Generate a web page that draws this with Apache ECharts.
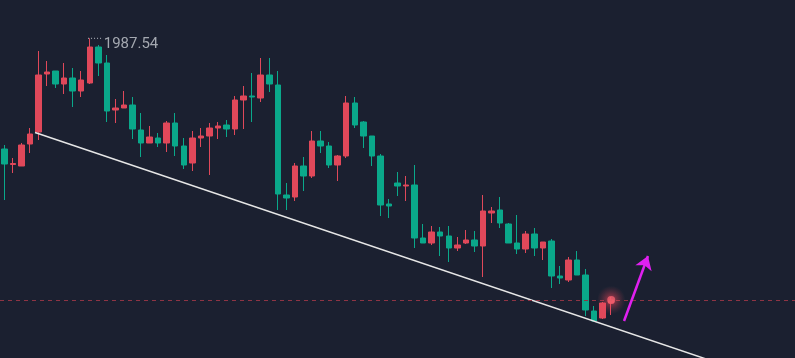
<!DOCTYPE html>
<html>
<head>
<meta charset="utf-8">
<script src="https://cdn.jsdelivr.net/npm/echarts@6/dist/echarts.min.js"></script>
<style>
html,body{margin:0;padding:0;background:#1b2030;}
#chart{width:795px;height:358px;}
</style>
</head>
<body>
<div id="chart"></div>
<script>
// OHLC candles: [open, close, low, high]
const candles = [
  [1965.4,1962.4,1955.2,1966.2],
  [1962.3,1962.5,1960.6,1963.6],
  [1962.0,1966.2,1962.0,1966.6],
  [1966.4,1968.4,1964.6,1969.6],
  [1968.8,1980.2,1967.2,1985.0],
  [1980.4,1980.8,1978.0,1983.0],
  [1981.0,1978.4,1977.6,1981.0],
  [1978.4,1979.6,1976.4,1982.6],
  [1979.6,1977.0,1973.8,1981.6],
  [1977.0,1979.2,1975.8,1981.0],
  [1978.6,1985.8,1978.4,1987.54],
  [1985.8,1982.6,1980.0,1986.2],
  [1982.6,1973.0,1970.8,1984.2],
  [1973.2,1973.6,1970.6,1975.4],
  [1973.6,1974.2,1973.6,1977.0],
  [1974.2,1969.4,1967.4,1975.8],
  [1969.2,1966.6,1963.8,1972.6],
  [1966.6,1967.8,1966.6,1970.0],
  [1967.6,1966.6,1965.8,1968.6],
  [1966.6,1970.6,1964.8,1971.0],
  [1970.6,1966.0,1964.0,1972.6],
  [1966.0,1962.2,1961.4,1967.6],
  [1962.6,1967.6,1961.0,1969.0],
  [1967.6,1968.0,1965.8,1969.6],
  [1968.0,1969.6,1960.2,1970.6],
  [1969.6,1970.0,1967.4,1970.8],
  [1970.2,1969.4,1967.8,1971.2],
  [1969.4,1975.2,1968.2,1976.0],
  [1975.2,1976.0,1969.4,1978.0],
  [1976.0,1975.8,1970.8,1980.6],
  [1975.6,1980.2,1974.8,1983.6],
  [1980.2,1978.4,1976.8,1983.6],
  [1978.2,1956.4,1953.2,1981.0],
  [1956.2,1955.6,1953.2,1958.6],
  [1955.8,1962.0,1955.0,1962.6],
  [1962.0,1960.0,1957.0,1963.8],
  [1960.0,1967.0,1959.6,1969.0],
  [1967.0,1966.0,1964.6,1969.0],
  [1966.0,1962.2,1961.6,1966.8],
  [1962.2,1964.0,1959.0,1964.2],
  [1964.0,1974.6,1963.6,1976.0],
  [1974.6,1970.2,1969.6,1975.8],
  [1970.8,1968.0,1965.6,1971.0],
  [1968.0,1964.0,1962.0,1968.0],
  [1964.0,1954.2,1952.0,1964.4],
  [1954.4,1954.0,1951.6,1955.4],
  [1958.6,1958.0,1956.0,1960.8],
  [1958.0,1958.2,1955.0,1960.0],
  [1958.2,1947.6,1945.6,1962.2],
  [1947.6,1946.6,1946.6,1950.4],
  [1946.6,1948.8,1946.2,1950.0],
  [1948.8,1948.0,1944.0,1949.8],
  [1948.0,1945.6,1942.8,1950.0],
  [1945.6,1946.2,1945.0,1947.8],
  [1946.6,1947.2,1946.4,1949.2],
  [1947.2,1946.0,1944.8,1949.0],
  [1946.0,1953.0,1939.8,1956.2],
  [1952.6,1953.0,1950.6,1953.8],
  [1953.2,1950.6,1949.6,1955.8],
  [1950.4,1946.6,1946.6,1950.6],
  [1946.6,1945.4,1944.4,1952.2],
  [1945.4,1948.4,1944.6,1949.0],
  [1948.4,1945.6,1944.0,1949.6],
  [1945.6,1946.8,1943.2,1946.8],
  [1947.0,1940.0,1937.6,1947.4],
  [1940.0,1939.6,1938.4,1942.0],
  [1939.2,1943.2,1938.8,1943.8],
  [1943.2,1940.2,1940.2,1945.0],
  [1940.2,1933.2,1932.0,1941.4],
  [1933.0,1931.0,1931.0,1934.0],
  [1931.6,1934.6,1931.4,1934.8],
  [1934.6,1935.2,1932.2,1935.8]
];
const totalSlots = 93; // candles plus empty space on the right
const categories = Array.from({length: totalSlots}, (_, i) => 'K' + (i + 1));

const highLabel = 1987.54;
const highIndex = 10;
const lastPrice = 1935.2;
const trendX = [3.6, 92.5];
const trendY = [1968.7, 1917.4];
const arrowX = [72.5, 75.3];
const arrowY = [1931.0, 1944.0];
const yMin = 1923.6, yMax = 1995.2;

const UP = '#e0485a', DOWN = '#0aa88a';

const chart = echarts.init(document.getElementById('chart'), null, {renderer: 'canvas'});
chart.setOption({
  backgroundColor: '#1b2030',
  animation: false,
  grid: {left: 0, right: 0, top: 0, bottom: 0, containLabel: false},
  xAxis: [
    {type: 'category', data: categories, boundaryGap: true, show: false},
    {type: 'value', min: -0.5, max: totalSlots - 0.5, show: false}
  ],
  yAxis: [{type: 'value', min: yMin, max: yMax, show: false, scale: true}],
  series: [
    {
      type: 'candlestick',
      data: candles,
      barWidth: 6,
      itemStyle: {color: UP, color0: DOWN, borderColor: UP, borderColor0: DOWN, borderWidth: 1},
      markLine: {
        silent: true,
        symbol: ['none', 'none'],
        label: {show: false},
        lineStyle: {color: '#8e3444', type: [4, 4], width: 1},
        data: [{yAxis: lastPrice}]
      },
      z: 3
    },
    {
      type: 'line',
      xAxisIndex: 1,
      data: [[trendX[0], trendY[0]], [trendX[1], trendY[1]]],
      symbol: 'none',
      lineStyle: {color: '#e6e6e6', width: 1.5},
      z: 4
    },
    {
      type: 'line',
      xAxisIndex: 1,
      data: [[highIndex - 0.2, highLabel], [highIndex + 1.4, highLabel]],
      symbol: 'none',
      lineStyle: {color: '#b8bcc4', width: 1, type: [1, 2]},
      endLabel: {
        show: true,
        formatter: String(highLabel),
        color: '#a4a8b0',
        fontSize: 15,
        fontFamily: 'Roboto, "Noto Sans", sans-serif',
        distance: 2,
        offset: [0, 6]
      },
      z: 4
    },
    {
      type: 'lines',
      coordinateSystem: 'cartesian2d',
      xAxisIndex: 1,
      symbol: ['none', 'arrow'],
      symbolSize: 13,
      lineStyle: {color: '#e020f0', width: 2.5, opacity: 1},
      data: [{coords: [[arrowX[0], arrowY[0]], [arrowX[1], arrowY[1]]]}],
      z: 5
    },
    {
      type: 'scatter',
      data: [[candles.length - 1, lastPrice]],
      symbolSize: 28,
      silent: true,
      itemStyle: {
        color: new echarts.graphic.RadialGradient(0.5, 0.5, 0.5, [
          {offset: 0, color: 'rgba(245,80,100,0.55)'},
          {offset: 0.45, color: 'rgba(245,80,100,0.28)'},
          {offset: 1, color: 'rgba(245,80,100,0)'}
        ])
      },
      z: 6
    },
    {
      type: 'scatter',
      data: [[candles.length - 1, lastPrice]],
      symbolSize: 8,
      itemStyle: {color: '#f0606e', shadowBlur: 8, shadowColor: 'rgba(255,60,80,0.9)'},
      z: 7
    }
  ]
});
</script>
</body>
</html>
